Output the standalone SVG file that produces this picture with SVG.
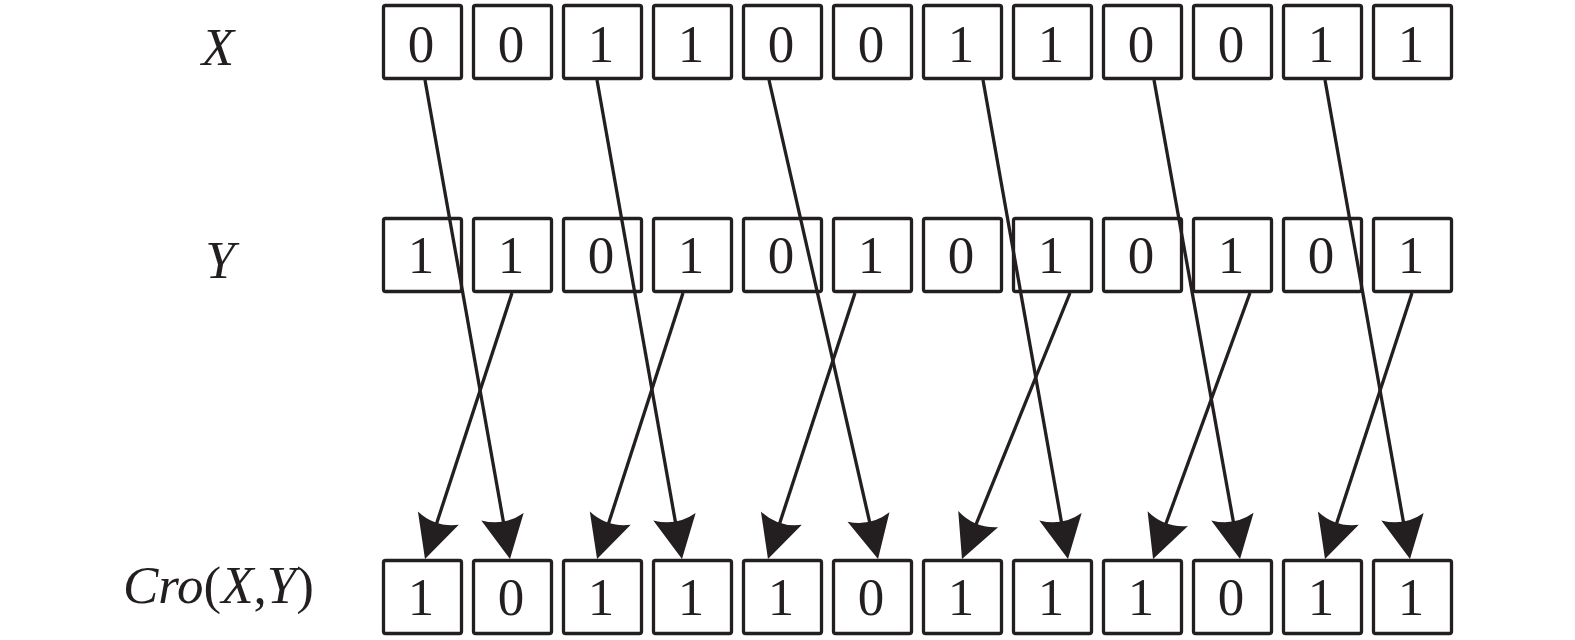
<svg xmlns="http://www.w3.org/2000/svg" width="1575" height="640" viewBox="0 0 1575 640">
<style>
.box rect{fill:#fff;stroke:#231f20;stroke-width:3.3}
.box text,.lbl{font-family:"Liberation Serif","Times New Roman",serif;font-size:53px;fill:#231f20}
.box text{text-anchor:middle}
.it{font-style:italic}
.conn line{stroke:#231f20;stroke-width:3.3;fill:none}
</style>
<defs>
<marker id="ah" markerUnits="userSpaceOnUse" markerWidth="80" markerHeight="80" viewBox="-40 -40 80 80" refX="0" refY="0" orient="auto" overflow="visible">
<path d="M20,0 L-23,-21.5 Q-13,0 -23,21.5 Z" fill="#231f20"/>
</marker>
</defs>
<g id="labels">
<text class="lbl it" x="218" y="65" text-anchor="middle">X</text>
<text class="lbl it" x="220" y="278" text-anchor="middle">Y</text>
<text class="lbl" x="123" y="603"><tspan class="it">Cro</tspan>(<tspan class="it">X</tspan>,<tspan class="it">Y</tspan>)</text>
</g>
<g id="row-x">
<g id="x0" class="box"><rect x="383.5" y="5.5" width="78" height="73" rx="2"/><text x="421" y="62">0</text></g>
<g id="x1" class="box"><rect x="473.5" y="5.5" width="78" height="73" rx="2"/><text x="511" y="62">0</text></g>
<g id="x2" class="box"><rect x="563.5" y="5.5" width="78" height="73" rx="2"/><text x="601" y="62">1</text></g>
<g id="x3" class="box"><rect x="653.5" y="5.5" width="78" height="73" rx="2"/><text x="691" y="62">1</text></g>
<g id="x4" class="box"><rect x="743.5" y="5.5" width="78" height="73" rx="2"/><text x="781" y="62">0</text></g>
<g id="x5" class="box"><rect x="833.5" y="5.5" width="78" height="73" rx="2"/><text x="871" y="62">0</text></g>
<g id="x6" class="box"><rect x="923.5" y="5.5" width="78" height="73" rx="2"/><text x="961" y="62">1</text></g>
<g id="x7" class="box"><rect x="1013.5" y="5.5" width="78" height="73" rx="2"/><text x="1051" y="62">1</text></g>
<g id="x8" class="box"><rect x="1103.5" y="5.5" width="78" height="73" rx="2"/><text x="1141" y="62">0</text></g>
<g id="x9" class="box"><rect x="1193.5" y="5.5" width="78" height="73" rx="2"/><text x="1231" y="62">0</text></g>
<g id="x10" class="box"><rect x="1283.5" y="5.5" width="78" height="73" rx="2"/><text x="1321" y="62">1</text></g>
<g id="x11" class="box"><rect x="1373.5" y="5.5" width="78" height="73" rx="2"/><text x="1411" y="62">1</text></g>
</g>
<g id="row-y">
<g id="y0" class="box"><rect x="383.5" y="218.5" width="78" height="73" rx="2"/><text x="421" y="273">1</text></g>
<g id="y1" class="box"><rect x="473.5" y="218.5" width="78" height="73" rx="2"/><text x="511" y="273">1</text></g>
<g id="y2" class="box"><rect x="563.5" y="218.5" width="78" height="73" rx="2"/><text x="601" y="273">0</text></g>
<g id="y3" class="box"><rect x="653.5" y="218.5" width="78" height="73" rx="2"/><text x="691" y="273">1</text></g>
<g id="y4" class="box"><rect x="743.5" y="218.5" width="78" height="73" rx="2"/><text x="781" y="273">0</text></g>
<g id="y5" class="box"><rect x="833.5" y="218.5" width="78" height="73" rx="2"/><text x="871" y="273">1</text></g>
<g id="y6" class="box"><rect x="923.5" y="218.5" width="78" height="73" rx="2"/><text x="961" y="273">0</text></g>
<g id="y7" class="box"><rect x="1013.5" y="218.5" width="78" height="73" rx="2"/><text x="1051" y="273">1</text></g>
<g id="y8" class="box"><rect x="1103.5" y="218.5" width="78" height="73" rx="2"/><text x="1141" y="273">0</text></g>
<g id="y9" class="box"><rect x="1193.5" y="218.5" width="78" height="73" rx="2"/><text x="1231" y="273">1</text></g>
<g id="y10" class="box"><rect x="1283.5" y="218.5" width="78" height="73" rx="2"/><text x="1321" y="273">0</text></g>
<g id="y11" class="box"><rect x="1373.5" y="218.5" width="78" height="73" rx="2"/><text x="1411" y="273">1</text></g>
</g>
<g id="row-cro">
<g id="c0" class="box"><rect x="383.5" y="560.5" width="78" height="73" rx="2"/><text x="421" y="615">1</text></g>
<g id="c1" class="box"><rect x="473.5" y="560.5" width="78" height="73" rx="2"/><text x="511" y="615">0</text></g>
<g id="c2" class="box"><rect x="563.5" y="560.5" width="78" height="73" rx="2"/><text x="601" y="615">1</text></g>
<g id="c3" class="box"><rect x="653.5" y="560.5" width="78" height="73" rx="2"/><text x="691" y="615">1</text></g>
<g id="c4" class="box"><rect x="743.5" y="560.5" width="78" height="73" rx="2"/><text x="781" y="615">1</text></g>
<g id="c5" class="box"><rect x="833.5" y="560.5" width="78" height="73" rx="2"/><text x="871" y="615">0</text></g>
<g id="c6" class="box"><rect x="923.5" y="560.5" width="78" height="73" rx="2"/><text x="961" y="615">1</text></g>
<g id="c7" class="box"><rect x="1013.5" y="560.5" width="78" height="73" rx="2"/><text x="1051" y="615">1</text></g>
<g id="c8" class="box"><rect x="1103.5" y="560.5" width="78" height="73" rx="2"/><text x="1141" y="615">1</text></g>
<g id="c9" class="box"><rect x="1193.5" y="560.5" width="78" height="73" rx="2"/><text x="1231" y="615">0</text></g>
<g id="c10" class="box"><rect x="1283.5" y="560.5" width="78" height="73" rx="2"/><text x="1321" y="615">1</text></g>
<g id="c11" class="box"><rect x="1373.5" y="560.5" width="78" height="73" rx="2"/><text x="1411" y="615">1</text></g>
</g>
<g id="connectors" class="conn">
<line x1="425" y1="80" x2="506.5" y2="539.3" marker-end="url(#ah)"/>
<line x1="597" y1="80" x2="678.5" y2="539.3" marker-end="url(#ah)"/>
<line x1="769" y1="80" x2="873.6" y2="539.5" marker-end="url(#ah)"/>
<line x1="983" y1="80" x2="1064.5" y2="539.3" marker-end="url(#ah)"/>
<line x1="1154" y1="80" x2="1236.5" y2="539.3" marker-end="url(#ah)"/>
<line x1="1325" y1="80" x2="1406.5" y2="539.3" marker-end="url(#ah)"/>
<line x1="512" y1="293" x2="431.2" y2="540" marker-end="url(#ah)"/>
<line x1="683" y1="293" x2="603.2" y2="540" marker-end="url(#ah)"/>
<line x1="855" y1="293" x2="774.2" y2="540" marker-end="url(#ah)"/>
<line x1="1070" y1="293" x2="969.5" y2="540.5" marker-end="url(#ah)"/>
<line x1="1250" y1="293" x2="1159.9" y2="540.2" marker-end="url(#ah)"/>
<line x1="1412" y1="293" x2="1331.2" y2="540" marker-end="url(#ah)"/>
</g>
</svg>
